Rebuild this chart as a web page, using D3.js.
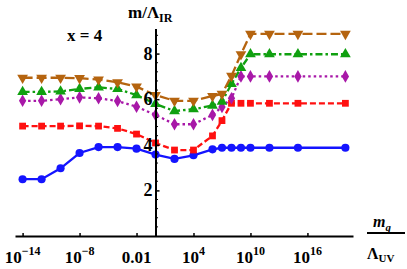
<!DOCTYPE html>
<meta charset="utf-8">
<script src="https://cdn.jsdelivr.net/npm/d3@7"></script>
<style>
body { margin: 0; background: #fff; }
</style>
<body>
<script>

// log10 of m_q / Lambda_UV for every point
var logMq = [-14, -12, -10, -8, -6, -4, -2, 0, 2, 4, 6, 7, 8, 9, 10, 12, 15, 20];

// m / Lambda_IR for each curve
var blueVals   = [2.49, 2.49, 2.97, 3.64, 3.90, 3.90, 3.83, 3.57, 3.38, 3.54, 3.80, 3.87, 3.87, 3.87, 3.87, 3.87, 3.87, 3.87];
var redVals    = [4.82, 4.82, 4.82, 4.83, 4.82, 4.72, 4.47, 4.08, 3.77, 3.77, 4.39, 5.06, 5.82, 5.82, 5.82, 5.82, 5.82, 5.82];
var purpleVals = [5.93, 5.93, 6.00, 6.08, 6.04, 5.92, 5.67, 5.31, 4.90, 4.90, 5.31, 5.66, 6.04, 7.00, 7.00, 7.00, 7.00, 7.00];
var greenVals  = [6.32, 6.32, 6.34, 6.45, 6.52, 6.45, 6.18, 5.79, 5.48, 5.56, 5.72, 5.89, 6.67, 7.37, 7.97, 7.97, 7.97, 7.97];
var brownVals  = [6.94, 6.94, 6.94, 6.92, 6.86, 6.74, 6.55, 6.18, 5.93, 5.93, 6.14, 6.23, 7.02, 7.97, 8.86, 8.86, 8.86, 8.86];

var xTickExp = [-14, -8, -2, 4, 10, 16];
var xTickText = [["10", "\u221214"], ["10", "\u22128"], ["0.01", ""], ["10", "4"], ["10", "10"], ["10", "16"]];
var yTicks = [2, 4, 6, 8];
var yMinor = [0.4, 0.8, 1.2, 1.6, 2.4, 2.8, 3.2, 3.6, 4.4, 4.8, 5.2, 5.6, 6.4, 6.8, 7.2, 7.6, 8.4, 8.8];

var series = [
  {vals: blueVals,   color: "#1414ff", dash: null,        shape: d3.symbolCircle,   size: 52, rot: 0},
  {vals: redVals,    color: "#ff1010", dash: "6,3",       shape: d3.symbolSquare,   size: 46, rot: 0},
  {vals: purpleVals, color: "#a818a8", dash: "2.5,3",     shape: d3.symbolDiamond,  size: 46, rot: 0},
  {vals: greenVals,  color: "#10a010", dash: "7,3,2.5,3", shape: d3.symbolTriangle, size: 50, rot: 0},
  {vals: brownVals,  color: "#b5640f", dash: "10,4",      shape: d3.symbolTriangle, size: 50, rot: 180}
];

var serif = "Liberation Serif";
var width = 407, height = 269;
var x = d3.scaleLog().domain([Math.pow(10, -14.8), Math.pow(10, 20.8)]).range([15, 353]);
var y = d3.scaleLinear().domain([0, 9.1]).range([236, 28.5]);

var svg = d3.select("body").append("svg")
    .attr("width", width)
    .attr("height", height);

// curves
series.forEach(function(s) {
  var pts = logMq.map(function(e, i) { return [Math.pow(10, e), s.vals[i]]; });
  var line = d3.line().x(function(d) { return x(d[0]); }).y(function(d) { return y(d[1]); });
  svg.append("path").datum(pts)
    .attr("d", line)
    .attr("fill", "none")
    .attr("stroke", s.color)
    .attr("stroke-width", 2.3)
    .attr("stroke-dasharray", s.dash);
  svg.append("g").selectAll("path").data(pts).enter().append("path")
    .attr("d", d3.symbol().type(s.shape).size(s.size))
    .attr("transform", function(d) { return "translate(" + x(d[0]) + "," + y(d[1]) + ") rotate(" + s.rot + ")"; })
    .attr("fill", s.color);
});

// x axis
var xAxis = svg.append("g").attr("transform", "translate(0," + y(0) + ")")
    .call(d3.axisTop(x).tickValues(xTickExp.map(function(e) { return Math.pow(10, e); }))
      .tickSize(3).tickSizeOuter(0).tickFormat(""));
xAxis.select(".domain").attr("stroke-width", 2);
xAxis.selectAll(".tick line").attr("stroke-width", 1.5);

var xl = svg.append("g").selectAll("text").data(xTickExp).enter().append("text")
    .attr("x", function(d) { return x(Math.pow(10, d)); })
    .attr("y", 263)
    .attr("text-anchor", "middle")
    .style("font-family", serif)
    .style("font-weight", "bold")
    .style("font-size", "17px");
xl.append("tspan").text(function(d, i) { return xTickText[i][0]; });
xl.append("tspan").attr("dy", -8).style("font-size", "12px")
  .text(function(d, i) { return xTickText[i][1]; });

// y axis
var yAxis = svg.append("g").attr("transform", "translate(" + x(1) + ",0)")
    .call(d3.axisRight(y).tickValues(yTicks).tickSize(4).tickSizeOuter(0).tickFormat(""));
yAxis.select(".domain").attr("stroke-width", 2);
yAxis.selectAll(".tick line").attr("stroke-width", 1.5);
svg.append("g").selectAll("line").data(yMinor).enter().append("line")
    .attr("x1", x(1)).attr("x2", x(1) + 2.5)
    .attr("y1", function(d) { return y(d); }).attr("y2", function(d) { return y(d); })
    .attr("stroke", "#000").attr("stroke-width", 1);

svg.append("g").selectAll("text").data(yTicks).enter().append("text")
    .attr("x", x(1) - 3)
    .attr("y", function(d) { return y(d) + 6; })
    .attr("text-anchor", "end")
    .style("font-family", serif)
    .style("font-weight", "bold")
    .style("font-size", "18px")
    .text(String);

// labels
var yl = svg.append("text").attr("x", 128).attr("y", 18)
    .style("font-family", serif).style("font-weight", "bold").style("font-size", "17px");
yl.append("tspan").text("m/\u039B");
yl.append("tspan").attr("dy", 4).style("font-size", "12px").text("IR");

svg.append("text").attr("x", 67).attr("y", 41)
    .style("font-family", serif).style("font-weight", "bold").style("font-size", "17px")
    .text("x = 4");

var xn = svg.append("text").attr("x", 373).attr("y", 227)
    .style("font-family", serif).style("font-weight", "bold").style("font-style", "italic").style("font-size", "16px");
xn.append("tspan").text("m");
xn.append("tspan").attr("dy", 4).style("font-size", "11px").text("q");
svg.append("line").attr("x1", 367).attr("x2", 405).attr("y1", 233).attr("y2", 233)
    .attr("stroke", "#000").attr("stroke-width", 2);
var xd = svg.append("text").attr("x", 367).attr("y", 259)
    .style("font-family", serif).style("font-weight", "bold").style("font-size", "16px");
xd.append("tspan").text("\u039B");
xd.append("tspan").attr("dy", 3).style("font-size", "11px").text("UV");

</script>
</body>
</html>
